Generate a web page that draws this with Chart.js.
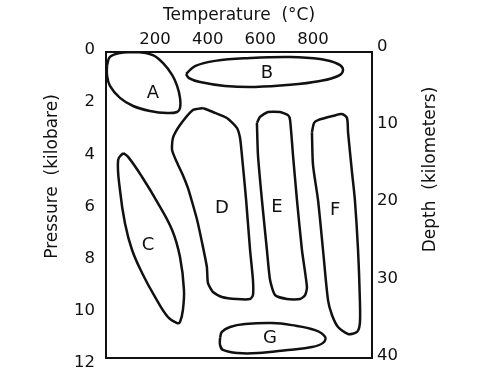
<!DOCTYPE html>
<html>
<head>
<meta charset="utf-8">
<script src="https://cdn.jsdelivr.net/npm/chart.js@4/dist/chart.umd.min.js"></script>
<style>
html,body{margin:0;padding:0;background:#fff;}
#wrap{width:500px;height:382px;}
</style>
</head>
<body>
<div id="wrap"><canvas id="c" width="500" height="382"></canvas></div>
<script>
// Tick labels
const tempTicks = [200, 400, 600, 800];
const pressureTicks = [0, 2, 4, 6, 8, 10, 12];
const depthTicks = [0, 10, 20, 30, 40];

// Region outlines: temperature (°C) and pressure (kbar)
const regionA_T = [18, 29, 67, 132, 192, 230, 265, 284, 295, 295, 284, 246, 181, 117, 67, 29, 18];
const regionA_P = [0.58, 0.27, 0.12, 0.08, 0.20, 0.50, 0.96, 1.38, 1.84, 2.23, 2.38, 2.42, 2.34, 2.15, 1.84, 1.38, 0.96];

const regionB_T = [318, 352, 428, 561, 713, 827, 895, 914, 895, 827, 713, 580, 466, 371, 329];
const regionB_P = [0.92, 0.62, 0.42, 0.31, 0.27, 0.35, 0.54, 0.77, 1.00, 1.19, 1.34, 1.42, 1.38, 1.23, 1.08];

const regionC_T = [79, 98, 151, 211, 265, 295, 310, 306, 295, 284, 249, 200, 151, 113, 86, 67, 60];
const regionC_P = [3.95, 4.10, 4.87, 5.87, 6.90, 7.94, 9.20, 9.97, 10.43, 10.47, 10.24, 9.47, 8.55, 7.67, 6.64, 5.37, 4.22];

const regionD_T = [382, 420, 473, 511, 523, 530, 546, 561, 572, 572, 561, 511, 454, 420, 401, 397, 379, 360, 341, 325, 306, 284, 265, 268, 295, 344];
const regionD_P = [2.23, 2.38, 2.61, 2.99, 3.38, 4.03, 5.75, 7.67, 8.82, 9.40, 9.55, 9.55, 9.47, 9.28, 8.93, 8.32, 7.40, 6.52, 5.83, 5.29, 4.80, 4.33, 3.84, 3.38, 2.88, 2.30];

const regionE_T = [587, 599, 629, 675, 705, 713, 724, 739, 758, 777, 770, 751, 701, 656, 637, 625, 606, 591];
const regionE_P = [2.80, 2.57, 2.38, 2.38, 2.50, 2.69, 4.03, 5.75, 7.67, 9.09, 9.40, 9.55, 9.55, 9.40, 8.82, 7.67, 5.75, 4.03];

const regionF_T = [796, 804, 819, 876, 910, 929, 933, 948, 959, 971, 978, 978, 967, 933, 895, 872, 857, 838, 819, 800];
const regionF_P = [3.15, 2.80, 2.69, 2.53, 2.46, 2.61, 3.15, 4.68, 5.75, 7.67, 9.59, 10.47, 10.81, 10.89, 10.62, 10.16, 9.59, 7.67, 5.75, 4.41];

const regionG_T = [447, 454, 485, 542, 644, 720, 808, 846, 838, 796, 705, 591, 515, 458, 447];
const regionG_P = [11.04, 10.81, 10.62, 10.51, 10.47, 10.55, 10.74, 11.00, 11.23, 11.39, 11.50, 11.62, 11.62, 11.50, 11.31];

// Region label names and positions (°C, kbar)
const regionNames = ['A', 'B', 'C', 'D', 'E', 'F', 'G'];
const regionLabelT = [192, 625, 174, 454, 663, 884, 637];
const regionLabelP = [1.65, 0.88, 7.48, 6.06, 6.02, 6.14, 11.04];

function closedPoints(T, P) {
  const pts = T.map((t, i) => ({x: t, y: P[i]}));
  pts.push({x: T[0], y: P[0]});
  return pts;
}

const ink = '#111';
const regions = [
  [regionA_T, regionA_P, 0.4],
  [regionB_T, regionB_P, 0.4],
  [regionC_T, regionC_P, 0.4],
  [regionD_T, regionD_P, 0.2],
  [regionE_T, regionE_P, 0.2],
  [regionF_T, regionF_P, 0.25],
  [regionG_T, regionG_P, 0.4]
];

const datasets = regions.map((r, i) => ({
  label: regionNames[i],
  data: closedPoints(r[0], r[1]),
  showLine: true,
  borderColor: ink,
  borderWidth: 2.5,
  pointRadius: 0,
  fill: false,
  tension: r[2]
}));

const labelPlugin = {
  id: 'regionLabels',
  afterDatasetsDraw(chart) {
    const ctx = chart.ctx;
    const xs = chart.scales.x, ys = chart.scales.y;
    ctx.save();
    ctx.fillStyle = ink;
    ctx.font = '18px "DejaVu Sans"';
    ctx.textAlign = 'center';
    ctx.textBaseline = 'middle';
    regionNames.forEach((n, i) => {
      ctx.fillText(n, xs.getPixelForValue(regionLabelT[i]), ys.getPixelForValue(regionLabelP[i]));
    });
    ctx.restore();
  },
  afterDraw(chart) {
    const ctx = chart.ctx;
    ctx.save();
    ctx.fillStyle = ink;
    ctx.font = '17px "DejaVu Sans"';
    ctx.textAlign = 'center';
    ctx.textBaseline = 'middle';
    ctx.translate(53, 176.5);
    ctx.rotate(-Math.PI / 2);
    ctx.fillText('Pressure  (kilobare)', 0, 0);
    ctx.restore();
    ctx.save();
    ctx.fillStyle = ink;
    ctx.font = '17px "DejaVu Sans"';
    ctx.textAlign = 'center';
    ctx.textBaseline = 'middle';
    ctx.translate(431, 169.5);
    ctx.rotate(-Math.PI / 2);
    ctx.fillText('Depth  (kilometers)', 0, 0);
    ctx.restore();
  }
};

const tickFont = {family: 'DejaVu Sans', size: 16.5};
const borderOpt = {display: true, color: ink, width: 2};

new Chart(document.getElementById('c'), {
  type: 'scatter',
  data: {datasets},
  plugins: [labelPlugin],
  options: {
    responsive: false,
    animation: false,
    layout: {padding: 0},
    plugins: {legend: {display: false}, tooltip: {enabled: false}},
    scales: {
      x: {
        type: 'linear', position: 'top', min: 14, max: 1024,
        afterBuildTicks: s => { s.ticks = tempTicks.map(v => ({value: v})); },
        afterFit: s => { s.height = 52; },
        ticks: {color: ink, font: tickFont, padding: 2, autoSkip: false, maxRotation: 0},
        grid: {display: false, drawTicks: false},
        border: borderOpt,
        title: {display: true, text: 'Temperature  (°C)', color: ink, font: {family: 'DejaVu Sans', size: 17}, padding: {top: 5, bottom: 0}}
      },
      x2: {
        type: 'linear', position: 'bottom', min: 0, max: 1,
        afterFit: s => { s.height = 24; },
        ticks: {display: false},
        grid: {display: false, drawTicks: false},
        border: borderOpt
      },
      y: {
        type: 'linear', position: 'left', reverse: true, min: 0.08, max: 11.81,
        afterBuildTicks: s => { s.ticks = pressureTicks.map(v => ({value: v})); },
        afterFit: s => { s.width = 106; },
        ticks: {color: ink, font: tickFont, padding: 11, autoSkip: false},
        grid: {display: false, drawTicks: false},
        border: borderOpt
      },
      y2: {
        type: 'linear', position: 'right', reverse: true, min: 0.7, max: 40.3,
        afterBuildTicks: s => { s.ticks = depthTicks.map(v => ({value: v})); },
        afterFit: s => { s.width = 128; },
        ticks: {color: ink, font: tickFont, padding: 5, autoSkip: false},
        grid: {display: false, drawTicks: false},
        border: borderOpt
      }
    }
  }
});
</script>
</body>
</html>
